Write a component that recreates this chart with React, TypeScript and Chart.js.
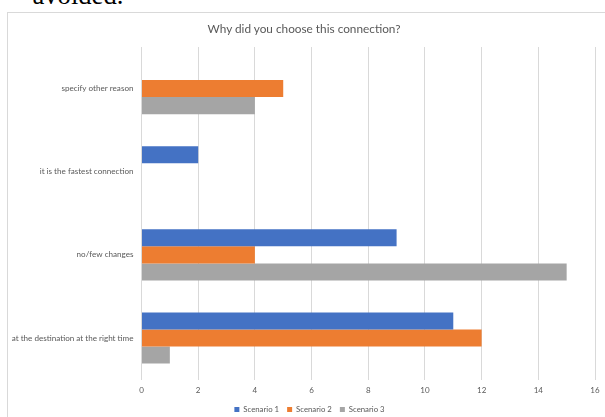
import React, { useEffect, useRef } from "react";
import { Chart, registerables } from "chart.js";

Chart.register(...registerables);

const categories = [
  "specify other reason",
  "it is the fastest connection",
  "no/few changes",
  "at the destination at the right time",
];
const scenario1 = [0, 2, 9, 11];
const scenario2 = [5, 0, 4, 12];
const scenario3 = [4, 0, 15, 1];
const seriesNames = ["Scenario 1", "Scenario 2", "Scenario 3"];
const chartTitle = "Why did you choose this connection?";
const xTicks = { min: 0, max: 16, step: 2 };

const FONT = "Lato, 'Liberation Sans', Arial, sans-serif";
const TEXT = "#595959";

export default function App() {
  const canvasRef = useRef<HTMLCanvasElement | null>(null);

  useEffect(() => {
    document.body.style.margin = "0";
    const ctx = canvasRef.current!;
    const chart = new Chart(ctx, {
      type: "bar",
      data: {
        labels: categories,
        datasets: [
          { label: seriesNames[0], data: scenario1, backgroundColor: "#4472C4" },
          { label: seriesNames[1], data: scenario2, backgroundColor: "#ED7D31" },
          { label: seriesNames[2], data: scenario3, backgroundColor: "#A5A5A5" },
        ],
      },
      options: {
        indexAxis: "y",
        animation: false,
        responsive: false,
        maintainAspectRatio: false,
        datasets: { bar: { categoryPercentage: 0.615, barPercentage: 1 } },
        layout: { padding: { top: 47, right: 0, bottom: 0.6, left: 0 } },
        scales: {
          x: {
            min: xTicks.min,
            max: xTicks.max,
            ticks: { stepSize: xTicks.step, color: TEXT, font: { family: FONT, size: 8 }, padding: 5.6 },
            grid: { color: "#d9d9d9", drawTicks: false },
            border: { display: false },
            afterFit: (s: any) => {
              s.height = 18;
              s.paddingRight = 24;
            },
          },
          y: {
            ticks: { color: TEXT, font: { family: FONT, size: 8.1 }, padding: 8 },
            grid: { display: false, drawTicks: false },
            border: { display: false },
            afterFit: (s: any) => {
              s.width = 141.5;
            },
          },
        },
        plugins: {
          title: { display: false },
          legend: {
            position: "bottom",
            labels: {
              color: TEXT,
              font: { family: FONT, size: 7.8 },
              boxWidth: 5,
              boxHeight: 5,
              padding: 8,
            },
          },
          tooltip: { enabled: false },
        },
      },
    });
    return () => chart.destroy();
  }, []);

  return (
    <div style={{ position: "relative", width: 605, height: 417, overflow: "hidden", background: "#fff" }}>
      <div
        style={{
          position: "absolute",
          left: 32.5,
          top: -17.8,
          fontFamily: "'Liberation Serif', 'Times New Roman', serif",
          fontSize: 26.6,
          lineHeight: "26.6px",
          color: "#000",
          whiteSpace: "nowrap",
        }}
      >
        avoided.
      </div>
      <div
        style={{
          position: "absolute",
          left: 7,
          top: 12,
          width: 640,
          height: 440,
          border: "1px solid #d9d9d9",
          boxSizing: "border-box",
        }}
      />
      <canvas ref={canvasRef} width={619} height={424} style={{ position: "absolute", left: 0, top: 0 }} />
      <div
        style={{
          position: "absolute",
          left: 0,
          top: 21,
          width: 608,
          textAlign: "center",
          fontFamily: FONT,
          fontSize: 11.8,
          lineHeight: "16px",
          color: TEXT,
          whiteSpace: "nowrap",
        }}
      >
        {chartTitle}
      </div>
    </div>
  );
}
